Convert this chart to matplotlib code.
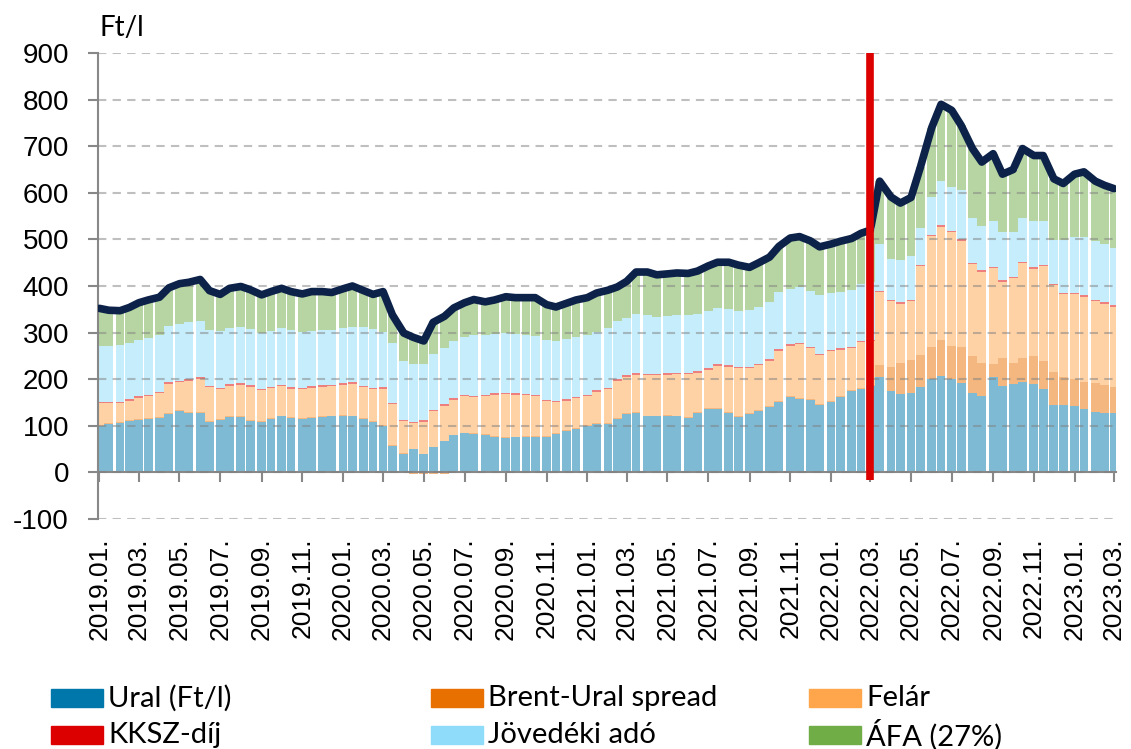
import matplotlib
matplotlib.use('Agg')
import matplotlib.pyplot as plt
from matplotlib.patches import Rectangle
import numpy as np
import pandas as pd

plt.rcParams['font.family'] = ['Liberation Sans', 'DejaVu Sans']
plt.rcParams['axes.unicode_minus'] = False

# semi-monthly observations, 2019.01.01 - 2023.03.01
dates = pd.date_range('2019-01-01', '2023-03-01', freq='SMS')

ural = [99, 103, 106, 110, 113, 115, 117, 125, 131, 128,
        127, 108, 112, 118, 118, 110, 108, 114, 120, 116,
        114, 116, 119, 120, 122, 120, 114, 108, 99, 56,
        40, 50, 40, 55, 68, 80, 84, 82, 80, 77,
        74, 75, 77, 77, 77, 83, 89, 94, 99, 103,
        104, 114, 125, 128, 120, 120, 122, 120, 116, 128,
        137, 136, 128, 119, 125, 131, 140, 152, 162, 158,
        155, 145, 152, 162, 175, 180, 185, 205, 174, 168,
        170, 184, 200, 207, 200, 192, 170, 165, 205, 185,
        190, 195, 190, 180, 145, 145, 142, 135, 130, 128,
        127]
spread = [2, 2, 2, 2, 2, 2, 2, 2, 2, 2,
          2, 2, 2, 2, 2, 2, 2, 2, 2, 2,
          2, 2, 2, 2, 2, 2, 2, 2, 2, 2,
          2, -3, -3, -3, -3, -2, -2, 2, 2, 2,
          2, 2, 2, 2, 2, 2, 2, 2, 2, 2,
          2, 2, 2, 2, 2, 2, 2, 2, 2, 2,
          2, 2, 2, 2, 2, 2, 2, 2, 2, 2,
          2, 2, 2, 2, 2, 2, 2, 25, 53, 67,
          71, 68, 70, 78, 72, 78, 80, 70, 27, 60,
          45, 50, 60, 60, 70, 60, 58, 60, 62, 60,
          57]
felar = [48, 44, 41, 42, 45, 47, 51, 63, 60, 67,
         72, 73, 65, 66, 68, 72, 66, 65, 63, 62,
         62, 64, 63, 63, 64, 68, 67, 68, 79, 88,
         68, 55, 69, 76, 75, 76, 79, 78, 81, 88,
         92, 90, 87, 85, 74, 66, 63, 63, 62, 68,
         72, 81, 78, 80, 87, 86, 86, 89, 93, 84,
         81, 91, 97, 102, 96, 97, 98, 107, 108, 115,
         110, 105, 106, 99, 90, 98, 95, 157, 140, 127,
         126, 190, 237, 242, 243, 227, 197, 196, 206, 164,
         182, 204, 187, 202, 187, 177, 182, 182, 176, 174,
         172]
kksz = [3] * 101
jovedeki = [119, 120, 122, 121, 121, 122, 121, 122, 123, 122,
            121, 120, 121, 121, 122, 121, 121, 120, 121, 122,
            121, 119, 118, 118, 119, 120, 125, 127, 119, 128,
            125, 124, 120, 121, 122, 123, 125, 129, 128, 128,
            128, 127, 126, 126, 128, 129, 130, 129, 128, 126,
            128, 124, 124, 126, 125, 123, 123, 124, 123, 123,
            124, 121, 121, 121, 122, 122, 122, 124, 119, 120,
            120, 125, 122, 122, 122, 122, 124, 100, 89, 91,
            95, 80, 80, 95, 94, 106, 95, 95, 98, 103,
            95, 93, 100, 95, 94, 113, 120, 125, 126, 125,
            122]
afa = [81, 76, 73, 76, 80, 81, 82, 81, 86, 86,
       89, 84, 79, 85, 86, 84, 81, 84, 86, 83,
       81, 84, 83, 80, 84, 87, 79, 74, 86, 61,
       61, 61, 53, 70, 70, 73, 75, 77, 72, 72,
       78, 78, 80, 82, 76, 72, 76, 79, 81, 83,
       82, 74, 78, 91, 93, 90, 90, 90, 90, 92,
       96, 98, 100, 98, 92, 95, 97, 97, 109, 108,
       107, 104, 105, 108, 110, 108, 111, 135, 132, 122,
       125, 130, 150, 165, 165, 139, 150, 137, 145, 125,
       135, 150, 140, 140, 131, 122, 135, 140, 128, 126,
       128]
red_line_date = pd.Timestamp('2022-02-28')

series = [('Ural (Ft/l)', ural, '#0077AA'),
          ('Brent-Ural spread', spread, '#E87000'),
          ('Felár', felar, '#FFA64D'),
          ('KKSZ-díj', kksz, '#DD0000'),
          ('Jövedéki adó', jovedeki, '#8EDCFA'),
          ('ÁFA (27%)', afa, '#70AD47')]

fig = plt.figure(figsize=(11.31, 7.49), dpi=100)
ax = fig.add_axes([0.0867, 0.3071, 0.9, 0.6221])

# axis line sits at 0, labels hang below -100 (set before ticks: it resets them)
for s in ['top', 'right']:
    ax.spines[s].set_visible(False)
ax.spines['bottom'].set_position(('data', 0))
ax.spines['bottom'].set_color('#888888')
ax.spines['bottom'].set_linewidth(1.5)
ax.spines['left'].set_color('#888888')
ax.spines['left'].set_linewidth(1.5)

pos = np.zeros(len(dates))
neg = np.zeros(len(dates))
for name, vals, col in series:
    v = np.array(vals, dtype=float)
    bottom = np.where(v >= 0, pos, neg)
    ax.bar(dates, v, width=13.2, bottom=bottom, color=col, alpha=0.5, lw=0, zorder=1)
    pos = pos + np.clip(v, 0, None)
    neg = neg + np.clip(v, None, 0)

total = pos + neg
ax.plot(dates, total, color='#0C2248', lw=5.5, solid_joinstyle='round',
        solid_capstyle='round', zorder=4)
ax.plot([red_line_date, red_line_date], [-17, 900], color='#DD0000', lw=5.5,
        zorder=5, clip_on=False, solid_capstyle='butt')

ax.set_ylim(-100, 900)
ax.set_yticks(np.arange(-100, 901, 100))
ax.set_xlim(pd.Timestamp('2018-12-30'), pd.Timestamp('2023-03-04'))
ticks = pd.date_range('2019-01-01', '2023-03-01', freq='2MS')
ax.set_xticks(ticks)
ax.set_xticklabels([d.strftime('%Y.%m.') for d in ticks], rotation=90, fontsize=19,
                   va='top', ha='center')
ax.tick_params(axis='x', direction='out', length=7, width=1.5, color='#888888', pad=40)
ax.tick_params(axis='y', direction='out', length=7, width=1.5, color='#888888',
               labelsize=20, pad=14)

ax.set_axisbelow(False)
ax.yaxis.grid(True, linestyle=(0, (4, 3)), color='#808080', alpha=0.5, lw=1.5)

fig.text(100 / 1131, 1 - 28 / 749, 'Ft/l', fontsize=20, va='center', ha='left',
         family='Lato')

# legend drawn by hand: 3 columns x 2 rows
col_x = [51, 431, 809]
row_y = [698, 735]
for k, (name, vals, col) in enumerate(series):
    cx = col_x[k % 3]
    cy = row_y[k // 3]
    fig.patches.append(Rectangle((cx / 1131, 1 - (cy + 9) / 749), 52 / 1131, 18 / 749,
                                 transform=fig.transFigure, color=col))
    fig.text((cx + 57) / 1131, 1 - cy / 749, name, fontsize=21, va='center', ha='left',
             family='Lato')

fig.savefig('out.png', dpi=100)
